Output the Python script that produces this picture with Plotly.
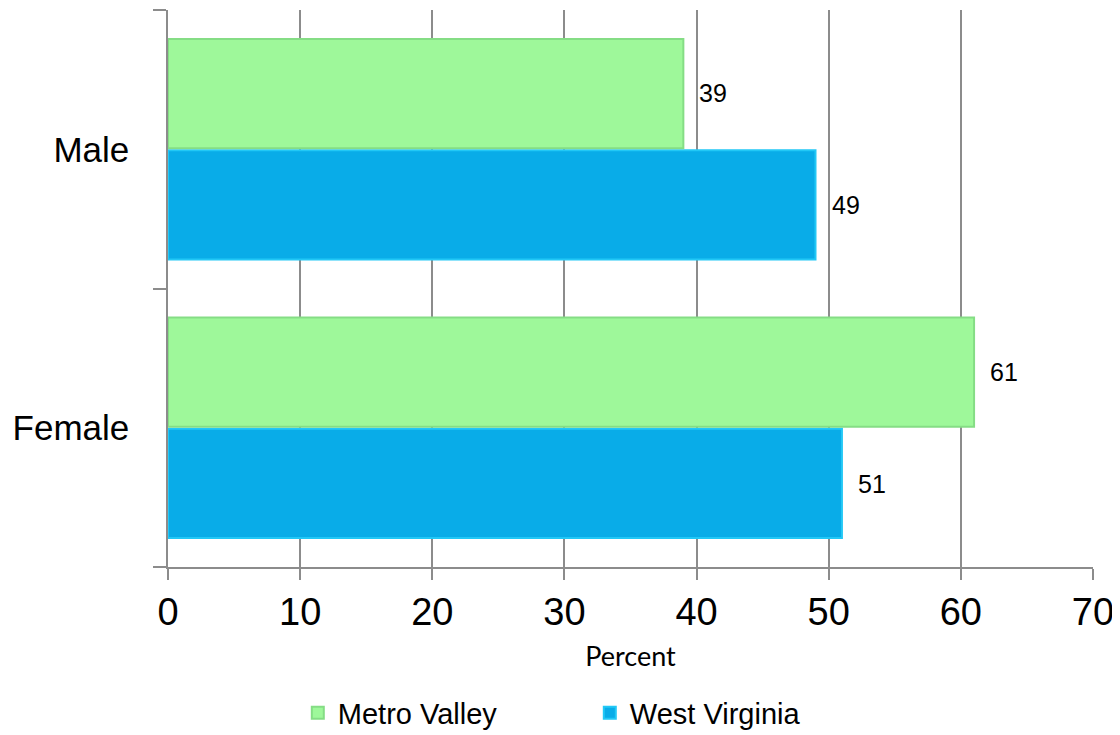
import plotly.graph_objects as go

categories = ["Female", "Male"]
metro_valley = [61, 39]
west_virginia = [51, 49]
x_ticks = [0, 10, 20, 30, 40, 50, 60, 70]

MV_FILL = "#9ef89a"
MV_LINE = "#85dd85"
WV_FILL = "#09ace8"
WV_LINE = "#22c8f6"
GRID = "#8c8c8c"

fig = go.Figure()
fig.add_trace(go.Bar(
    y=categories, x=west_virginia, orientation="h", name="West Virginia",
    marker=dict(color=WV_FILL, line=dict(color=WV_LINE, width=2)),
    legendrank=2,
))
fig.add_trace(go.Bar(
    y=categories, x=metro_valley, orientation="h", name="Metro Valley",
    marker=dict(color=MV_FILL, line=dict(color=MV_LINE, width=2)),
    legendrank=1,
))

for cat, v in zip(categories, metro_valley):
    fig.add_annotation(x=v, y=cat, text=str(v), showarrow=False, xanchor="left",
                       xshift=14, yshift=56, font=dict(family="Liberation Sans", size=25, color="black"))
for cat, v in zip(categories, west_virginia):
    fig.add_annotation(x=v, y=cat, text=str(v), showarrow=False, xanchor="left",
                       xshift=14, yshift=-56, font=dict(family="Liberation Sans", size=25, color="black"))

fig.update_layout(
    width=1112, height=727,
    margin=dict(l=160, r=27, t=2, b=168, autoexpand=False),
    paper_bgcolor="white", plot_bgcolor="white",
    barmode="group", bargap=0.2, bargroupgap=0.02,
    showlegend=True,
    legend=dict(orientation="h", x=0.456, xanchor="center", y=-0.262, yanchor="middle",
                font=dict(family="Liberation Sans", size=29, color="black"),
                entrywidth=247, itemwidth=30),
    xaxis=dict(
        range=[0, 70], tickvals=x_ticks, ticktext=[str(t) for t in x_ticks],
        showgrid=True, gridcolor=GRID, gridwidth=1.5,
        showline=True, linecolor=GRID, linewidth=1.5,
        ticks="outside", ticklen=11, tickcolor=GRID, tickwidth=1.5,
        tickfont=dict(family="Liberation Sans", size=38, color="black"),
        ticklabeloverflow="allow",
        title=dict(text="Percent", font=dict(family="Lato", size=27, color="black"), standoff=15),
        zeroline=False,
    ),
    yaxis=dict(
        categoryorder="array", categoryarray=categories,
        range=[-0.5, 1.5],
        showline=True, linecolor=GRID, linewidth=1.5,
        ticks="outside", tickson="boundaries", ticklen=13, tickcolor=GRID, tickwidth=1.5,
        tickfont=dict(family="Liberation Sans", size=35, color="black"),
        ticklabelstandoff=30,
        showgrid=False, zeroline=False,
    ),
)

fig.write_html("out.html")
